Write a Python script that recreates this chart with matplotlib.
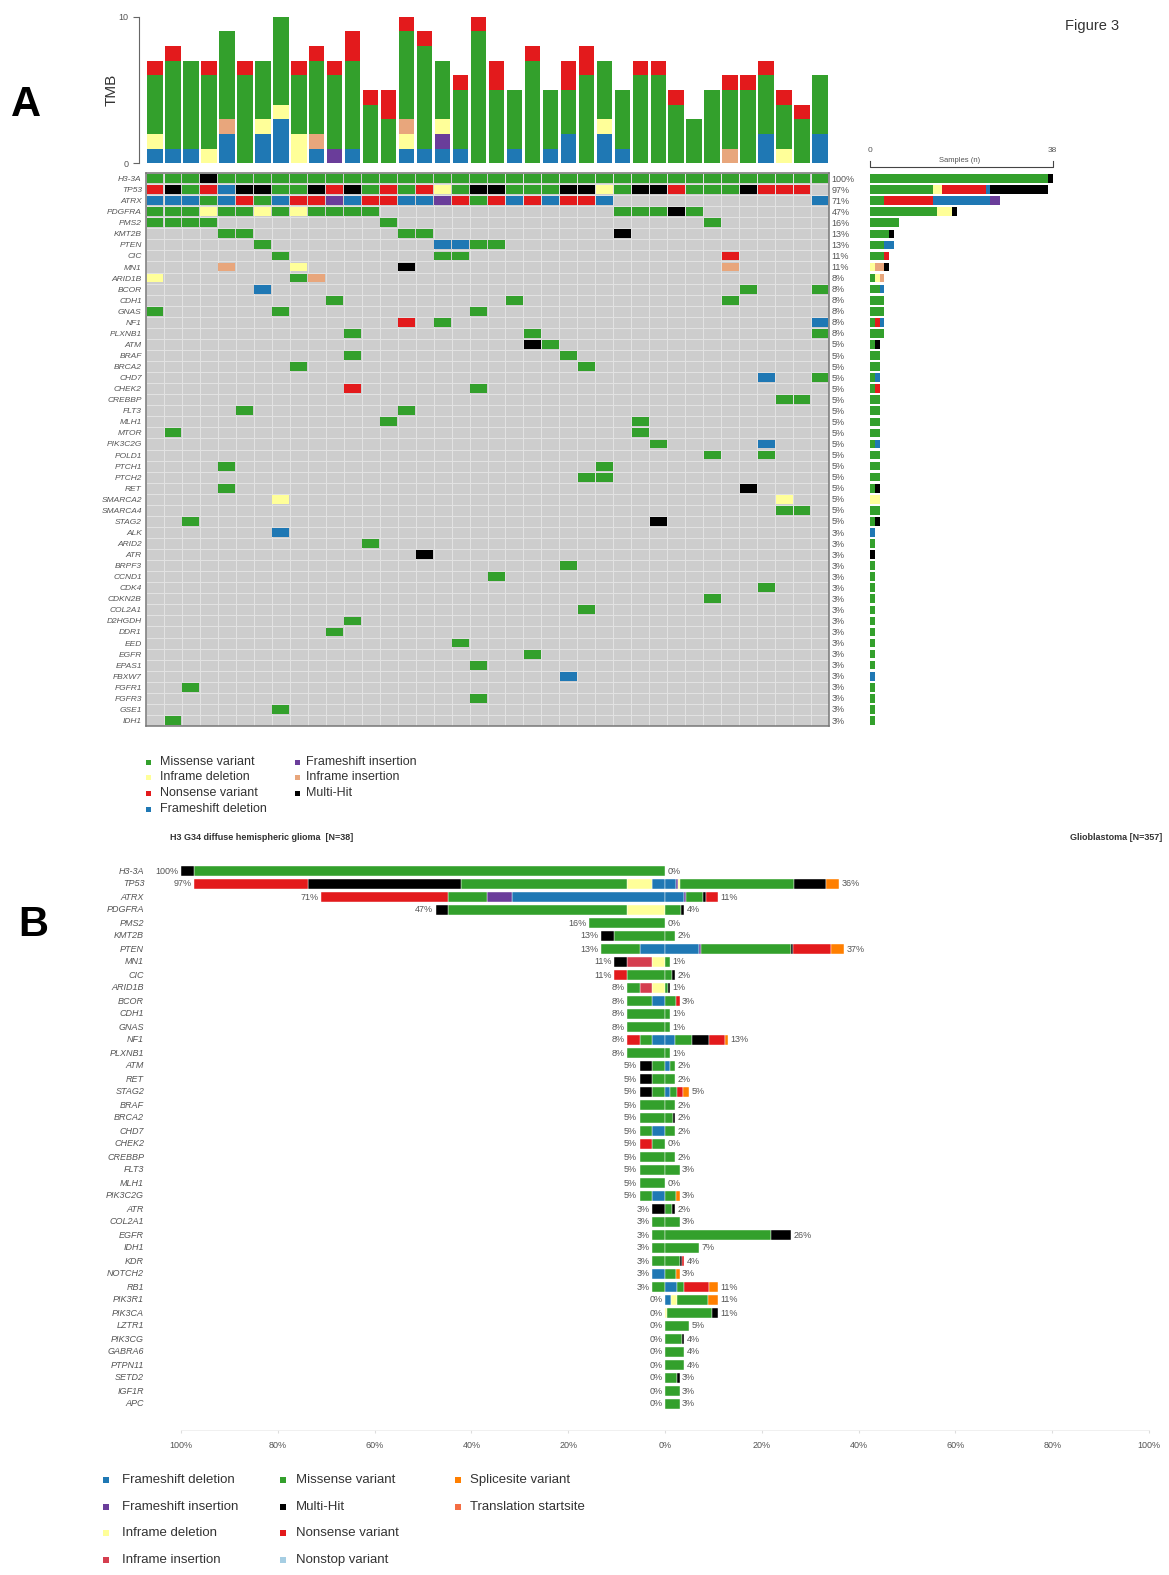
import matplotlib
matplotlib.use("Agg")
import matplotlib.pyplot as plt
from matplotlib.patches import Rectangle
from matplotlib.lines import Line2D

plt.rcParams['font.family'] = ['Liberation Sans', 'DejaVu Sans']

W, H = 1169, 1575

# ---------------- Panel A data ----------------
N_A = 38
a_genes = ['H3-3A', 'TP53', 'ATRX', 'PDGFRA', 'PMS2', 'KMT2B', 'PTEN', 'CIC', 'MN1', 'ARID1B',
           'BCOR', 'CDH1', 'GNAS', 'NF1', 'PLXNB1', 'ATM', 'BRAF', 'BRCA2', 'CHD7', 'CHEK2',
           'CREBBP', 'FLT3', 'MLH1', 'MTOR', 'PIK3C2G', 'POLD1', 'PTCH1', 'PTCH2', 'RET', 'SMARCA2',
           'SMARCA4', 'STAG2', 'ALK', 'ARID2', 'ATR', 'BRPF3', 'CCND1', 'CDK4', 'CDKN2B', 'COL2A1',
           'D2HGDH', 'DDR1', 'EED', 'EGFR', 'EPAS1', 'FBXW7', 'FGFR1', 'FGFR3', 'GSE1', 'IDH1']

# codes: M missense, Y inframe del, R nonsense, B frameshift del, P frameshift ins,
#        T inframe ins, K multi-hit, . none
a_dense = {
    'H3-3A':  'MMMKMMMMMM' 'MMMMMMMMMM' 'MMMMMMMMMM' 'MMMMMMMM',
    'TP53':   'RKMRBKKMMK' 'RKMRMRYMKK' 'MMMKKYMKKR' 'MMMKRRR.',
    'ATRX':   'BBBMBRMBRR' 'PBRRBBPRMR' 'BRBRRB....' '.......B',
    'PDGFRA': 'MMMYMMYMYM' 'MMM.......' '......MMMK' 'M.......',
}
a_sparse = {
    'PMS2': {0: 'M', 1: 'M', 2: 'M', 3: 'M', 13: 'M', 31: 'M'},
    'KMT2B': {4: 'M', 5: 'M', 14: 'M', 15: 'M', 26: 'K'},
    'PTEN': {6: 'M', 16: 'B', 17: 'B', 18: 'M', 19: 'M'},
    'CIC': {7: 'M', 16: 'M', 17: 'M', 32: 'R'},
    'MN1': {4: 'T', 8: 'Y', 14: 'K', 32: 'T'},
    'ARID1B': {0: 'Y', 8: 'M', 9: 'T'},
    'BCOR': {6: 'B', 33: 'M', 37: 'M'},
    'CDH1': {10: 'M', 20: 'M', 32: 'M'},
    'GNAS': {0: 'M', 7: 'M', 18: 'M'},
    'NF1': {14: 'R', 16: 'M', 37: 'B'},
    'PLXNB1': {11: 'M', 21: 'M', 37: 'M'},
    'ATM': {21: 'K', 22: 'M'},
    'BRAF': {11: 'M', 23: 'M'},
    'BRCA2': {8: 'M', 24: 'M'},
    'CHD7': {34: 'B', 37: 'M'},
    'CHEK2': {11: 'R', 18: 'M'},
    'CREBBP': {35: 'M', 36: 'M'},
    'FLT3': {5: 'M', 14: 'M'},
    'MLH1': {13: 'M', 27: 'M'},
    'MTOR': {1: 'M', 27: 'M'},
    'PIK3C2G': {28: 'M', 34: 'B'},
    'POLD1': {31: 'M', 34: 'M'},
    'PTCH1': {4: 'M', 25: 'M'},
    'PTCH2': {24: 'M', 25: 'M'},
    'RET': {4: 'M', 33: 'K'},
    'SMARCA2': {7: 'Y', 35: 'Y'},
    'SMARCA4': {35: 'M', 36: 'M'},
    'STAG2': {2: 'M', 28: 'K'},
    'ALK': {7: 'B'},
    'ARID2': {12: 'M'},
    'ATR': {15: 'K'},
    'BRPF3': {23: 'M'},
    'CCND1': {19: 'M'},
    'CDK4': {34: 'M'},
    'CDKN2B': {31: 'M'},
    'COL2A1': {24: 'M'},
    'D2HGDH': {11: 'M'},
    'DDR1': {10: 'M'},
    'EED': {17: 'M'},
    'EGFR': {21: 'M'},
    'EPAS1': {18: 'M'},
    'FBXW7': {23: 'B'},
    'FGFR1': {2: 'M'},
    'FGFR3': {18: 'M'},
    'GSE1': {7: 'M'},
    'IDH1': {1: 'M'},
}

a_colors = {'M': '#33A02C', 'Y': '#FFFF99', 'R': '#E31A1C', 'B': '#1F78B4',
            'P': '#6A3D9A', 'T': '#E8A67C', 'K': '#000000'}

# TMB per sample, split by variant type
tmb_fsd = [1, 1, 1, 0, 2, 0, 2, 3, 0, 1, 0, 1, 0, 0, 1, 1, 1, 1, 0, 0,
           1, 0, 1, 2, 0, 2, 1, 0, 0, 0, 0, 0, 0, 0, 2, 0, 0, 2]
tmb_fsi = [0, 0, 0, 0, 0, 0, 0, 0, 0, 0, 1, 0, 0, 0, 0, 0, 1, 0, 0, 0,
           0, 0, 0, 0, 0, 0, 0, 0, 0, 0, 0, 0, 0, 0, 0, 0, 0, 0]
tmb_ifd = [1, 0, 0, 1, 0, 0, 1, 1, 2, 0, 0, 0, 0, 0, 1, 0, 1, 0, 0, 0,
           0, 0, 0, 0, 0, 1, 0, 0, 0, 0, 0, 0, 0, 0, 0, 1, 0, 0]
tmb_ifi = [0, 0, 0, 0, 1, 0, 0, 0, 0, 1, 0, 0, 0, 0, 1, 0, 0, 0, 0, 0,
           0, 0, 0, 0, 0, 0, 0, 0, 0, 0, 0, 0, 1, 0, 0, 0, 0, 0]
tmb_mis = [4, 6, 6, 5, 6, 6, 4, 6, 4, 5, 5, 6, 4, 3, 6, 7, 4, 4, 9, 5,
           4, 7, 4, 3, 6, 4, 4, 6, 6, 4, 3, 5, 4, 5, 4, 3, 3, 4]
tmb_non = [1, 1, 0, 1, 0, 1, 0, 0, 1, 1, 1, 2, 1, 2, 1, 1, 0, 1, 1, 2,
           0, 1, 0, 2, 2, 0, 0, 1, 1, 1, 0, 0, 1, 1, 1, 1, 1, 0]

# ---------------- Panel B data ----------------
N_B_LEFT = 38
b_genes = ['H3-3A', 'TP53', 'ATRX', 'PDGFRA', 'PMS2', 'KMT2B', 'PTEN', 'MN1', 'CIC', 'ARID1B',
           'BCOR', 'CDH1', 'GNAS', 'NF1', 'PLXNB1', 'ATM', 'RET', 'STAG2', 'BRAF', 'BRCA2',
           'CHD7', 'CHEK2', 'CREBBP', 'FLT3', 'MLH1', 'PIK3C2G', 'ATR', 'COL2A1', 'EGFR', 'IDH1',
           'KDR', 'NOTCH2', 'RB1', 'PIK3R1', 'PIK3CA', 'LZTR1', 'PIK3CG', 'GABRA6', 'PTPN11', 'SETD2',
           'IGF1R', 'APC']
b_types = ['Frameshift deletion', 'Frameshift insertion', 'Inframe deletion', 'Inframe insertion',
           'Missense variant', 'Multi-Hit', 'Nonsense variant', 'Nonstop variant',
           'Splicesite variant', 'Translation startsite']
b_colors = ['#1F78B4', '#6A3D9A', '#FFFF99', '#D53E4F', '#33A02C', '#000000', '#E31A1C',
            '#A6CEE3', '#FF7F00', '#F46D43']

# left: H3 G34 DHG, sample counts (N=38)
left_fsd = [0, 1, 12, 0, 0, 0, 2, 0, 0, 0, 1, 0, 0, 1, 0, 0, 0, 0, 0, 0,
            1, 0, 0, 0, 0, 1, 0, 0, 0, 0, 0, 1, 0, 0, 0, 0, 0, 0, 0, 0, 0, 0]
left_fsi = [0, 0, 2, 0, 0, 0, 0, 0, 0, 0, 0, 0, 0, 0, 0, 0, 0, 0, 0, 0,
            0, 0, 0, 0, 0, 0, 0, 0, 0, 0, 0, 0, 0, 0, 0, 0, 0, 0, 0, 0, 0, 0]
left_ifd = [0, 2, 0, 3, 0, 0, 0, 1, 0, 1, 0, 0, 0, 0, 0, 0, 0, 0, 0, 0,
            0, 0, 0, 0, 0, 0, 0, 0, 0, 0, 0, 0, 0, 0, 0, 0, 0, 0, 0, 0, 0, 0]
left_ifi = [0, 0, 0, 0, 0, 0, 0, 2, 0, 1, 0, 0, 0, 0, 0, 0, 0, 0, 0, 0,
            0, 0, 0, 0, 0, 0, 0, 0, 0, 0, 0, 0, 0, 0, 0, 0, 0, 0, 0, 0, 0, 0]
left_mis = [37, 13, 3, 14, 6, 4, 3, 0, 3, 1, 2, 3, 3, 1, 3, 1, 1, 1, 2, 2,
            1, 1, 2, 2, 2, 1, 0, 1, 1, 1, 1, 0, 1, 0, 0, 0, 0, 0, 0, 0, 0, 0]
left_mh = [1, 12, 0, 1, 0, 1, 0, 1, 0, 0, 0, 0, 0, 0, 0, 1, 1, 1, 0, 0,
           0, 0, 0, 0, 0, 0, 1, 0, 0, 0, 0, 0, 0, 0, 0, 0, 0, 0, 0, 0, 0, 0]
left_non = [0, 9, 10, 0, 0, 0, 0, 0, 1, 0, 0, 0, 0, 1, 0, 0, 0, 0, 0, 0,
            0, 1, 0, 0, 0, 0, 0, 0, 0, 0, 0, 0, 0, 0, 0, 0, 0, 0, 0, 0, 0, 0]

# right: Glioblastoma, percent of samples (N=357)
right_fsd = [0, 2.2, 4.0, 0, 0, 0, 7.0, 0, 0, 0, 0, 0, 0, 2.0, 0, 1.0, 0, 1.0, 0, 0,
             0, 0, 0, 0, 0, 0, 0, 0, 0, 0, 0, 0, 2.5, 1.2, 0, 0, 0, 0, 0, 0, 0, 0]
right_fsi = [0, 0.4, 0.3, 0, 0, 0, 0.5, 0, 0, 0, 0, 0, 0, 0, 0, 0, 0, 0, 0, 0,
             0, 0, 0, 0, 0, 0, 0, 0, 0, 0, 0, 0, 0, 0, 0, 0, 0, 0, 0, 0, 0, 0]
right_ifd = [0, 0.6, 0, 0, 0, 0, 0, 0, 0, 0, 0, 0, 0, 0, 0, 0, 0, 0, 0, 0,
             0, 0, 0, 0, 0, 0, 0, 0, 0, 0, 0, 0, 0, 1.3, 0.5, 0, 0, 0, 0, 0, 0, 0]
right_ifi = [0, 0, 0, 0, 0, 0, 0, 0, 0, 0, 0, 0, 0, 0, 0, 0, 0, 0, 0, 0,
             0, 0, 0, 0, 0, 0, 0, 0, 0, 0, 0, 0, 0, 0, 0, 0, 0, 0, 0, 0, 0, 0]
right_mis = [0, 23.5, 3.6, 3.4, 0, 2.0, 18.5, 1.0, 1.5, 0.7, 2.2, 1.0, 1.0, 3.5, 1.0, 1.0, 2.0, 1.5, 2.0, 1.6,
             2.0, 0, 2.0, 3.0, 0, 2.3, 1.5, 3.0, 21.8, 7.0, 3.0, 2.2, 1.5, 6.3, 9.3, 5.0, 3.5, 4.0, 4.0, 2.5,
             3.0, 3.0]
right_mh = [0, 6.6, 0.6, 0.6, 0, 0, 0.5, 0, 0.5, 0.3, 0, 0, 0, 3.5, 0, 0, 0, 0, 0, 0.4,
            0, 0, 0, 0, 0, 0, 0.5, 0, 4.2, 0, 0.5, 0, 0, 0, 1.2, 0, 0.5, 0, 0, 0.5, 0, 0]
right_non = [0, 0, 2.5, 0, 0, 0, 7.8, 0, 0, 0, 0.8, 0, 0, 3.3, 0, 0, 0, 1.3, 0, 0,
             0, 0, 0, 0, 0, 0, 0, 0, 0, 0, 0.5, 0, 5.0, 0, 0, 0, 0, 0, 0, 0, 0, 0]
right_ns = [0, 0, 0, 0, 0, 0, 0, 0, 0, 0, 0, 0, 0, 0, 0, 0, 0, 0, 0, 0,
            0, 0, 0, 0, 0, 0, 0, 0, 0, 0, 0, 0, 0, 0, 0, 0, 0, 0, 0, 0, 0, 0]
right_spl = [0, 2.7, 0, 0, 0, 0, 2.7, 0, 0, 0, 0, 0, 0, 0.7, 0, 0, 0, 1.2, 0, 0,
             0, 0, 0, 0, 0, 0.7, 0, 0, 0, 0, 0, 0.8, 2.0, 2.2, 0, 0, 0, 0, 0, 0, 0, 0]
right_tss = [0, 0, 0, 0, 0, 0, 0, 0, 0, 0, 0, 0, 0, 0, 0, 0, 0, 0, 0, 0,
             0, 0, 0, 0, 0, 0, 0, 0, 0, 0, 0, 0, 0, 0, 0, 0, 0, 0, 0, 0, 0, 0]

# ---------------- figure ----------------
fig = plt.figure(figsize=(W / 100, H / 100), dpi=100)


def ax_px(x0, y0, x1, y1):
    return fig.add_axes([x0 / W, 1 - y1 / H, (x1 - x0) / W, (y1 - y0) / H])


LBL = '#555555'
TXT = '#333333'

# build oncoplot matrix
matrix = []
for g in a_genes:
    if g in a_dense:
        row = list(a_dense[g].ljust(N_A, '.')[:N_A])
    else:
        row = ['.'] * N_A
        for c, code in a_sparse.get(g, {}).items():
            row[c] = code
    matrix.append(row)

ONC_X0, ONC_X1, ONC_Y0, ONC_Y1 = 146, 829, 173, 726

# --- oncoplot grid
ax = ax_px(ONC_X0, ONC_Y0, ONC_X1, ONC_Y1)
ax.set_xlim(0, N_A)
ax.set_ylim(len(a_genes), 0)
for i, row in enumerate(matrix):
    for j, code in enumerate(row):
        ax.add_patch(Rectangle((j, i), 1, 1, fc='#CDCDCD', ec='#E4E4E4', lw=0.6))
        if code != '.':
            ax.add_patch(Rectangle((j + 0.03, i + 0.1), 0.94, 0.8, fc=a_colors[code], ec='none'))
ax.set_xticks([])
ax.set_yticks(range(len(a_genes)))
ax.set_yticks([i + 0.5 for i in range(len(a_genes))])
ax.set_yticklabels(a_genes, fontsize=6, style='italic', color=LBL)
ax.tick_params(axis='y', length=0, pad=3)
for s in ax.spines.values():
    s.set_color('#777777')
    s.set_linewidth(1.1)
# percentage labels
for i, row in enumerate(matrix):
    n = sum(1 for c in row if c != '.')
    ax.text(N_A + 0.15, i + 0.55, f"{round(n / N_A * 100)}%", fontsize=6.5, color=LBL,
            ha='left', va='center', clip_on=False)

# --- TMB bars
axt = ax_px(ONC_X0, 16.7, ONC_X1, 163.3)
axt.set_xlim(0, N_A)
axt.set_ylim(0, 10)
xs = [j + 0.5 for j in range(N_A)]
bottom = [0] * N_A
for vals, code in [(tmb_fsd, 'B'), (tmb_fsi, 'P'), (tmb_ifd, 'Y'), (tmb_ifi, 'T'),
                   (tmb_mis, 'M'), (tmb_non, 'R')]:
    axt.bar(xs, vals, bottom=bottom, width=0.86, color=a_colors[code], linewidth=0)
    bottom = [b + v for b, v in zip(bottom, vals)]
for s in ['top', 'right', 'bottom']:
    axt.spines[s].set_visible(False)
axt.spines['left'].set_position(('outward', 5))
axt.spines['left'].set_bounds(0, 10)
axt.spines['left'].set_color('#666666')
axt.set_xticks([])
axt.set_yticks([0, 10])
axt.tick_params(axis='y', labelsize=6.5, colors='#666666', length=4, labelcolor=LBL)
axt.set_ylabel('TMB', fontsize=11, color=TXT, labelpad=0)

# --- right side sample bars
axr = ax_px(870, ONC_Y0, 1053, ONC_Y1)
axr.set_xlim(0, N_A)
axr.set_ylim(len(a_genes), 0)
side_order = ['M', 'Y', 'T', 'R', 'B', 'P', 'K']
for i, row in enumerate(matrix):
    left = 0
    for code in side_order:
        n = sum(1 for c in row if c == code)
        if n:
            axr.barh(i + 0.5, n, left=left, height=0.78, color=a_colors[code], linewidth=0)
            left += n
axr.axis('off')

# --- Panel B
axb = ax_px(181, 864.5, 1149, 1430)
axb.set_xlim(-100, 100)
axb.set_ylim(43.0, -0.5)
left_series = [left_fsd, left_fsi, left_ifd, left_ifi, left_mis, left_mh, left_non]
right_series = [right_fsd, right_fsi, right_ifd, right_ifi, right_mis, right_mh, right_non,
                right_ns, right_spl, right_tss]
for i, g in enumerate(b_genes):
    pos = 0.0
    for k, vals in enumerate(left_series):
        w = vals[i] / N_B_LEFT * 100
        if w > 0:
            axb.barh(i, -w, left=-pos, height=0.8, color=b_colors[k], edgecolor='white', linewidth=0.3)
            pos += w
    axb.text(-pos - 0.5, i, f"{round(pos)}%", fontsize=6.5, color=LBL, ha='right', va='center')
    pos = 0.0
    for k, vals in enumerate(right_series):
        w = vals[i]
        if w > 0:
            axb.barh(i, w, left=pos, height=0.8, color=b_colors[k], edgecolor='white', linewidth=0.3)
            pos += w
    axb.text(pos + 0.5, i, f"{round(pos)}%", fontsize=6.5, color=LBL, ha='left', va='center')
    axb.text(-107.6, i, g, fontsize=6.5, style='italic', color=LBL, ha='right', va='center',
             clip_on=False)
ticks = [-100, -80, -60, -40, -20, 0, 20, 40, 60, 80, 100]
axb.set_xticks(ticks)
axb.set_xticklabels([f"{abs(t)}%" for t in ticks], fontsize=6.5, color=LBL)
axb.tick_params(axis='x', length=2, colors='#DDDDDD', labelcolor=LBL, pad=6)
axb.set_yticks([])
for s in ['top', 'right', 'left']:
    axb.spines[s].set_visible(False)
axb.spines['bottom'].set_color('#EEEEEE')
axb.spines['bottom'].set_linewidth(0.6)

# --- overlay for free text and legends
ov = fig.add_axes([0, 0, 1, 1])
ov.set_xlim(0, W)
ov.set_ylim(H, 0)
ov.axis('off')

ov.text(1092, 26, 'Figure 3', fontsize=10.5, color=TXT, ha='center', va='center')
ov.text(26, 105, 'A', fontsize=30, fontweight='bold', color='black', ha='center', va='center')
ov.text(33, 925, 'B', fontsize=30, fontweight='bold', color='black', ha='center', va='center')

# samples axis for side bars
ov.add_line(Line2D([870, 870, 1053, 1053], [161, 167, 167, 161], color='#444444', lw=0.8))
ov.text(870, 150, '0', fontsize=6, color=LBL, ha='center', va='center')
ov.text(1052, 150, '38', fontsize=6, color=LBL, ha='center', va='center')
ov.text(960, 160, 'Samples (n)', fontsize=5.5, color=LBL, ha='center', va='center')

# legend A
legA = [(148, 160, 762, 'Missense variant', 'M'), (148, 160, 777, 'Inframe deletion', 'Y'),
        (148, 160, 793, 'Nonsense variant', 'R'), (148, 160, 809, 'Frameshift deletion', 'B'),
        (297, 306, 762, 'Frameshift insertion', 'P'), (297, 306, 777, 'Inframe insertion', 'T'),
        (297, 306, 793, 'Multi-Hit', 'K')]
for mx, tx, y, lab, code in legA:
    ov.add_patch(Rectangle((mx - 2.5, y - 2.5), 5, 5, fc=a_colors[code], ec='none'))
    ov.text(tx, y, lab, fontsize=9, color=TXT, ha='left', va='center')

# panel B titles
ov.text(170, 838, 'H3 G34 diffuse hemispheric glioma  [N=38]', fontsize=6.5, fontweight='bold',
        color=TXT, ha='left', va='center')
ov.text(1162, 838, 'Glioblastoma [N=357]', fontsize=6.5, fontweight='bold', color=TXT,
        ha='right', va='center')

# legend B
legB_pos = [(106, 122, 1480), (106, 122, 1507), (106, 122, 1533), (106, 122, 1560),
            (283, 296, 1480), (283, 296, 1507), (283, 296, 1533), (283, 296, 1560),
            (458, 470, 1480), (458, 470, 1507)]
for (mx, tx, y), lab, col in zip(legB_pos, b_types, b_colors):
    ov.add_patch(Rectangle((mx - 3, y - 3), 6, 6, fc=col, ec='none'))
    ov.text(tx, y, lab, fontsize=9.5, color=TXT, ha='left', va='center')

fig.savefig('out.png', dpi=100)
